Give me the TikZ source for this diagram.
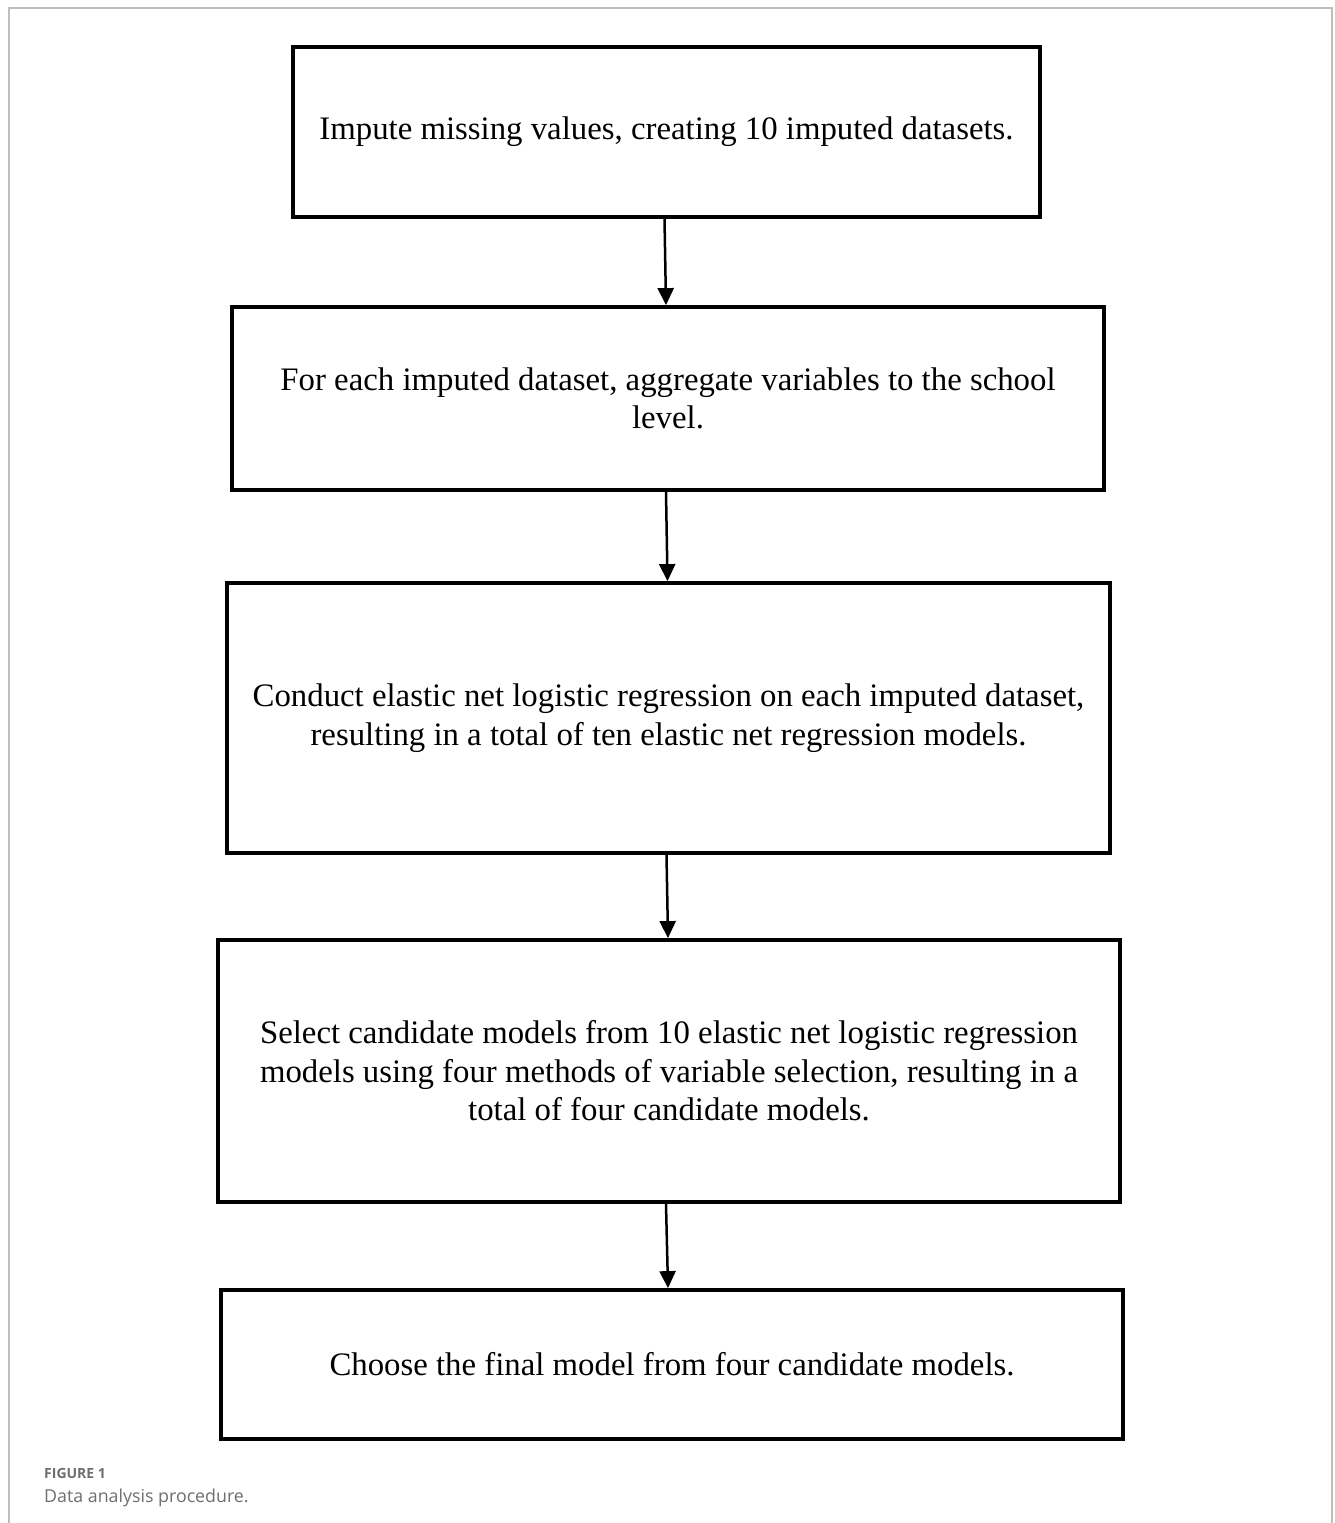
\documentclass[tikz,border=0pt]{standalone}
\usepackage{fontspec}
\setmainfont{Liberation Serif}
\newfontfamily\capfont{Open Sans}
\usetikzlibrary{arrows.meta}
\definecolor{framegray}{RGB}{190,190,190}
\definecolor{capgray}{RGB}{110,110,110}
\begin{document}
\begin{tikzpicture}[x=1pt,y=-1pt,
  box/.style={draw, line width=3.8pt, align=center, inner sep=0pt,
    font=\fontsize{32.8}{38.5}\selectfont},
  conn/.style={-{Triangle[length=17pt,width=16pt]}, line width=2.5pt},
  captxt/.style={anchor=base west, inner sep=0pt, text=capgray}]
\useasboundingbox (0,0) rectangle (1335,1523);
\draw[framegray, line width=2pt] (9,1523) -- (9,8) -- (1332,8) -- (1332,1523);
\node[box, minimum width=747pt, minimum height=170pt] (b1) at (666.5,132)
  {Impute missing values, creating 10 imputed datasets.};
\node[box, minimum width=872pt, minimum height=183pt] (b2) at (668,398.5)
  {For each imputed dataset, aggregate variables to the school\\level.};
\node[box, minimum width=883pt, minimum height=270pt] (b3) at (668.5,718)
  {Conduct elastic net logistic regression on each imputed dataset,\\resulting in a total of ten elastic net regression models.};
\node[box, minimum width=902pt, minimum height=262pt] (b4) at (669,1071)
  {Select candidate models from 10 elastic net logistic regression\\models using four methods of variable selection, resulting in a\\total of four candidate models.};
\node[box, minimum width=902pt, minimum height=149pt] (b5) at (672,1364.5)
  {Choose the final model from four candidate models.};
\draw[conn] ([xshift=-2pt]b1.south) -- ([xshift=-2pt]b2.north);
\draw[conn] ([xshift=-2pt]b2.south) -- ([xshift=-1pt]b3.north);
\draw[conn] ([xshift=-2pt]b3.south) -- ([xshift=-1pt]b4.north);
\draw[conn] ([xshift=-3pt]b4.south) -- ([xshift=-4pt]b5.north);
\node[captxt, font=\capfont\fontsize{14}{16}\selectfont\bfseries] (cap1) at (44,1478) {FIGURE 1};
\node[captxt, font=\capfont\fontsize{17.8}{22}\selectfont] (cap2) at (44,1502) {Data analysis procedure.};
\end{tikzpicture}
\end{document}
